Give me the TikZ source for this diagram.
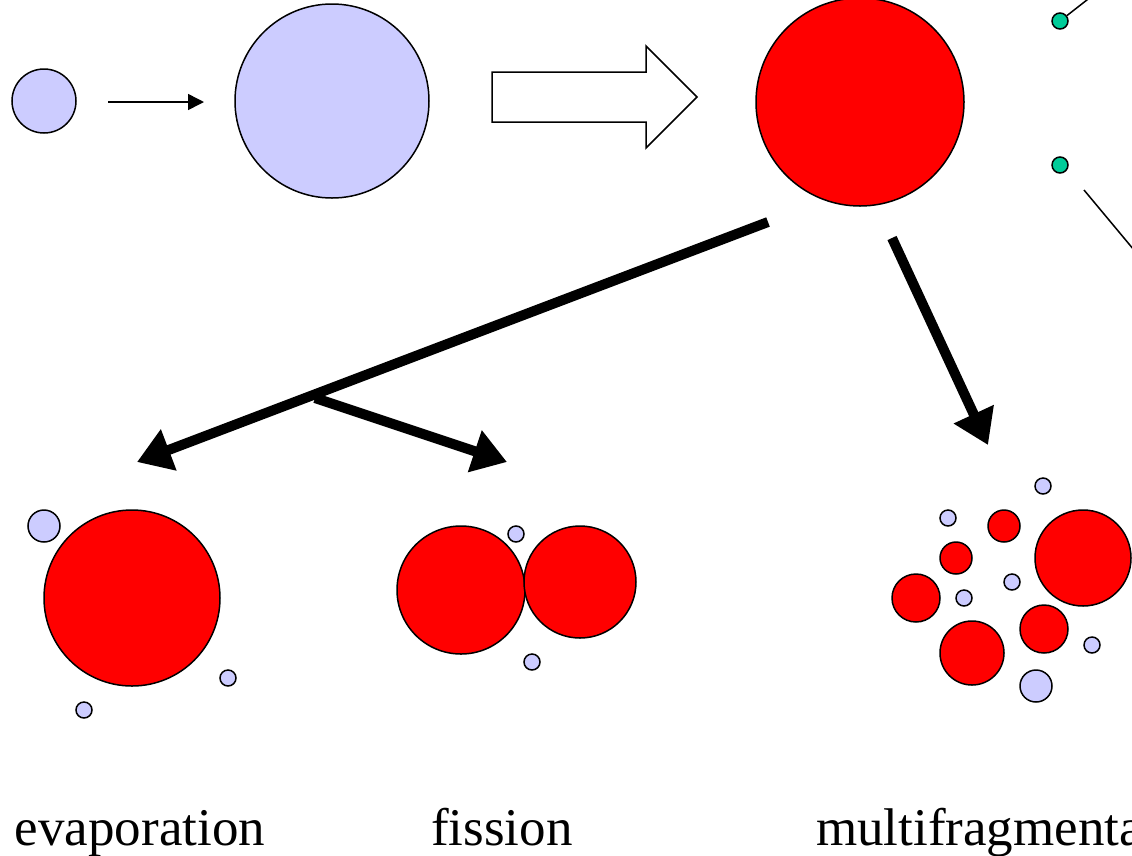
\documentclass[tikz,border=0pt]{standalone}
\usepackage{fontspec}
\setmainfont{Liberation Serif}
\usetikzlibrary{arrows.meta}
\definecolor{nucblue}{HTML}{CCCCFF}
\definecolor{nucred}{HTML}{FF0000}
\definecolor{nucgreen}{HTML}{00CC99}
\tikzset{
    ball/.style={draw, circle, line width=1.5pt, inner sep=0pt, minimum size=#1},
    lite/.style={ball=#1, fill=nucblue},
    hot/.style={ball=#1, fill=nucred},
    dot/.style={ball=16pt, fill=nucgreen},
    bigarrow/.style={line width=10pt, -{Triangle[length=34pt, width=42pt]}},
    label/.style={font=\fontsize{53}{60}\selectfont, anchor=base, inner sep=0pt},
}
\begin{document}
\begin{tikzpicture}[x=1pt, y=-1pt]
        \useasboundingbox (0,0) rectangle (1132,855);
        \clip (0,0) rectangle (1132,855);

        % incoming nucleus and fused system
        \draw (44,101) node [lite=64pt] (proj) {};
        \draw (332,101) node [lite=194pt] (comp) {};
        \draw (860,102) node [hot=208pt] (hotnuc) {};

        \coordinate (a1) at (108,102);
        \coordinate (a2) at (204,102);
        \draw[line width=1.5pt, -{Triangle[length=16pt, width=16pt]}] (a1) -- (a2);

        \draw[line width=1.5pt, fill=white] (492,72) -- (646,72) -- (646,46) -- (697,97)
            -- (646,148) -- (646,122) -- (492,122) -- cycle;

        % emitted particles
        \draw (1060,21) node [dot] (g1) {};
        \draw (1060,165) node [dot] (g2) {};
        \coordinate (g1end) at (1092,-4);
        \coordinate (g2beg) at (1084,190);
        \coordinate (g2end) at (1134,250);
        \draw[line width=1.5pt] (g1) -- (g1end);
        \draw[line width=1.5pt] (g2beg) -- (g2end);

        % decay channels
        \coordinate (d0) at (768,222);
        \coordinate (evap) at (137,462);
        \coordinate (fork) at (315,398);
        \coordinate (fiss) at (507,462);
        \coordinate (m0) at (892,238);
        \coordinate (mult) at (988,445);
        \draw[bigarrow] (d0) -- (evap);
        \draw[bigarrow] (fork) -- (fiss);
        \draw[bigarrow] (m0) -- (mult);

        % evaporation
        \draw (44,526) node [lite=32pt] (e1) {};
        \draw (132,598) node [hot=176pt] (e0) {};
        \draw (228,678) node [lite=16pt] (e2) {};
        \draw (84,710) node [lite=16pt] (e3) {};

        % fission
        \draw (461,590) node [hot=128pt] (f1) {};
        \draw (580,582) node [hot=112pt] (f2) {};
        \draw (516,534) node [lite=16pt] (f3) {};
        \draw (532,662) node [lite=16pt] (f4) {};

        % multifragmentation
        \draw (1043,486) node [lite=16pt] (m1) {};
        \draw (948,518) node [lite=16pt] (m2) {};
        \draw (1004,526) node [hot=32pt] (m3) {};
        \draw (1083,558) node [hot=96pt] (m4) {};
        \draw (956,558) node [hot=32pt] (m5) {};
        \draw (1012,582) node [lite=16pt] (m6) {};
        \draw (916,598) node [hot=48pt] (m7) {};
        \draw (964,598) node [lite=16pt] (m8) {};
        \draw (1044,629) node [hot=48pt] (m9) {};
        \draw (1092,645) node [lite=16pt] (m10) {};
        \draw (972,653) node [hot=64pt] (m11) {};
        \draw (1036,686) node [lite=32pt] (m12) {};

        \node [label] (tevap) at (140,845) {evaporation};
        \node [label] (tfiss) at (502,845) {fission};
        \node [label, anchor=base west] (tmult) at (816,845) {multifragmentation};
\end{tikzpicture}
\end{document}
